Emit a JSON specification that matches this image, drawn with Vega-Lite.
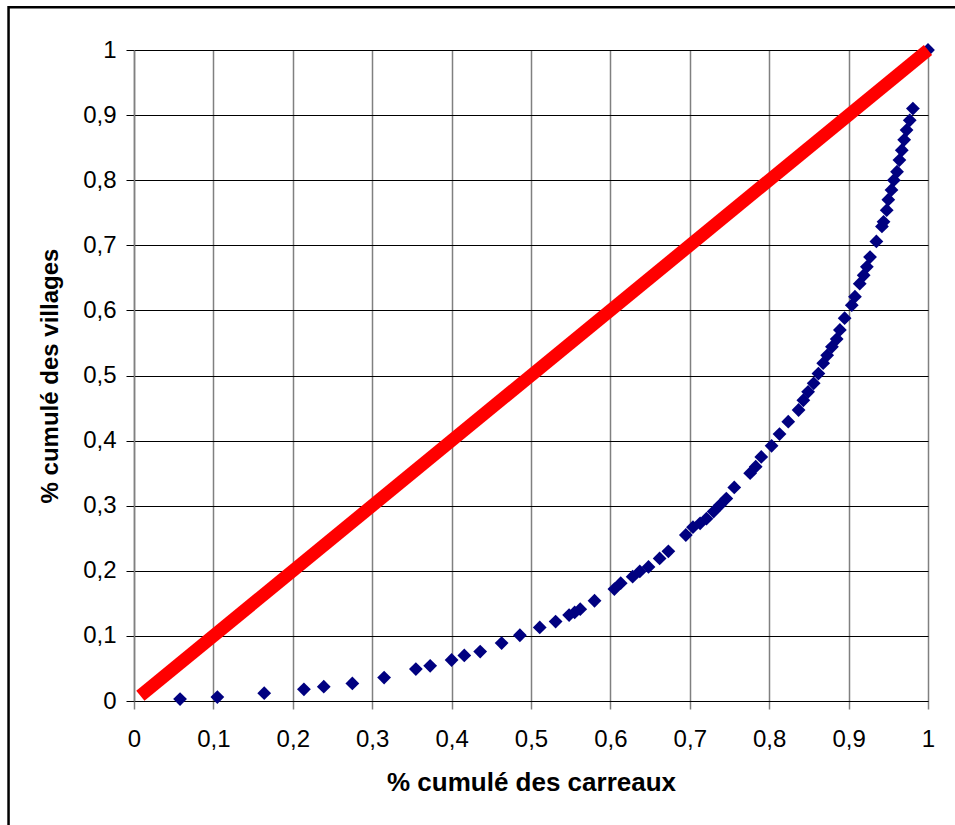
{
  "$schema": "https://vega.github.io/schema/vega-lite/v6.json",
  "autosize": "none",
  "width": 794,
  "height": 651,
  "padding": {"left": 134, "top": 50, "right": 27, "bottom": 124},
  "background": "white",
  "config": {
    "view": {"stroke": null},
    "font": "Liberation Sans",
    "axis": {"labelFont": "Liberation Sans", "titleFont": "Liberation Sans", "labelColor": "black", "titleColor": "black"}
  },
  "datasets": {
    "villages": [
      {"carreaux": 0.058, "villages": 0.003},
      {"carreaux": 0.105, "villages": 0.006},
      {"carreaux": 0.164, "villages": 0.012},
      {"carreaux": 0.214, "villages": 0.018},
      {"carreaux": 0.239, "villages": 0.022},
      {"carreaux": 0.275, "villages": 0.027},
      {"carreaux": 0.315, "villages": 0.036},
      {"carreaux": 0.355, "villages": 0.049},
      {"carreaux": 0.373, "villages": 0.054},
      {"carreaux": 0.400, "villages": 0.063},
      {"carreaux": 0.416, "villages": 0.070},
      {"carreaux": 0.436, "villages": 0.076},
      {"carreaux": 0.463, "villages": 0.089},
      {"carreaux": 0.486, "villages": 0.101},
      {"carreaux": 0.511, "villages": 0.113},
      {"carreaux": 0.531, "villages": 0.122},
      {"carreaux": 0.548, "villages": 0.132},
      {"carreaux": 0.555, "villages": 0.136},
      {"carreaux": 0.562, "villages": 0.141},
      {"carreaux": 0.580, "villages": 0.154},
      {"carreaux": 0.605, "villages": 0.172},
      {"carreaux": 0.613, "villages": 0.181},
      {"carreaux": 0.628, "villages": 0.191},
      {"carreaux": 0.637, "villages": 0.199},
      {"carreaux": 0.648, "villages": 0.206},
      {"carreaux": 0.662, "villages": 0.219},
      {"carreaux": 0.673, "villages": 0.230},
      {"carreaux": 0.695, "villages": 0.255},
      {"carreaux": 0.704, "villages": 0.267},
      {"carreaux": 0.713, "villages": 0.273},
      {"carreaux": 0.721, "villages": 0.280},
      {"carreaux": 0.730, "villages": 0.291},
      {"carreaux": 0.738, "villages": 0.301},
      {"carreaux": 0.746, "villages": 0.311},
      {"carreaux": 0.756, "villages": 0.328},
      {"carreaux": 0.776, "villages": 0.350},
      {"carreaux": 0.783, "villages": 0.360},
      {"carreaux": 0.790, "villages": 0.375},
      {"carreaux": 0.803, "villages": 0.392},
      {"carreaux": 0.813, "villages": 0.410},
      {"carreaux": 0.824, "villages": 0.429},
      {"carreaux": 0.837, "villages": 0.447},
      {"carreaux": 0.843, "villages": 0.462},
      {"carreaux": 0.849, "villages": 0.475},
      {"carreaux": 0.856, "villages": 0.488},
      {"carreaux": 0.862, "villages": 0.503},
      {"carreaux": 0.868, "villages": 0.519},
      {"carreaux": 0.873, "villages": 0.531},
      {"carreaux": 0.879, "villages": 0.544},
      {"carreaux": 0.885, "villages": 0.556},
      {"carreaux": 0.889, "villages": 0.570},
      {"carreaux": 0.895, "villages": 0.588},
      {"carreaux": 0.904, "villages": 0.608},
      {"carreaux": 0.908, "villages": 0.621},
      {"carreaux": 0.914, "villages": 0.641},
      {"carreaux": 0.919, "villages": 0.654},
      {"carreaux": 0.923, "villages": 0.667},
      {"carreaux": 0.927, "villages": 0.682},
      {"carreaux": 0.935, "villages": 0.706},
      {"carreaux": 0.942, "villages": 0.729},
      {"carreaux": 0.944, "villages": 0.736},
      {"carreaux": 0.948, "villages": 0.754},
      {"carreaux": 0.950, "villages": 0.770},
      {"carreaux": 0.954, "villages": 0.785},
      {"carreaux": 0.957, "villages": 0.800},
      {"carreaux": 0.961, "villages": 0.813},
      {"carreaux": 0.964, "villages": 0.831},
      {"carreaux": 0.967, "villages": 0.846},
      {"carreaux": 0.970, "villages": 0.862},
      {"carreaux": 0.973, "villages": 0.877},
      {"carreaux": 0.977, "villages": 0.892},
      {"carreaux": 0.981, "villages": 0.910},
      {"carreaux": 1.0, "villages": 1.0}
    ],
    "egalite": [
      {"carreaux": 0.008, "villages": 0.008},
      {"carreaux": 1.0, "villages": 1.0}
    ],
    "cadre": [
      {"gauche": -0.158, "droite": 1.06, "haut": 1.0655, "bas": -0.25}
    ]
  },
  "layer": [
    {
      "data": {"name": "villages"},
      "mark": {"type": "point", "shape": "diamond", "filled": true, "color": "#000080", "opacity": 1, "size": 190},
      "encoding": {
        "x": {
          "field": "carreaux", "type": "quantitative",
          "scale": {"domain": [0, 1], "nice": false, "zero": false},
          "axis": {
            "title": "% cumulé des carreaux",
            "values": [0, 0.1, 0.2, 0.3, 0.4, 0.5, 0.6, 0.7, 0.8, 0.9, 1],
            "format": ".1~f",
            "labelExpr": "replace(datum.label, '.', ',')",
            "labelFontSize": 24,
            "labelPadding": 18,
            "labelFlush": false,
            "labelOverlap": false,
            "tickSize": 8,
            "tickColor": "#808080",
            "tickWidth": 1.5,
            "domainColor": "black",
            "domainWidth": 1,
            "grid": true,
            "gridColor": "#808080",
            "gridWidth": 1.5,
            "gridOpacity": 1,
            "titleFontSize": 26,
            "titleFontWeight": "bold",
            "titlePadding": 18
          }
        },
        "y": {
          "field": "villages", "type": "quantitative",
          "scale": {"domain": [0, 1], "nice": false, "zero": false},
          "axis": {
            "title": "% cumulé des villages",
            "values": [0, 0.1, 0.2, 0.3, 0.4, 0.5, 0.6, 0.7, 0.8, 0.9, 1],
            "format": ".1~f",
            "labelExpr": "replace(datum.label, '.', ',')",
            "labelFontSize": 24,
            "labelPadding": 10,
            "labelFlush": false,
            "labelOverlap": false,
            "tickSize": 8,
            "tickColor": "black",
            "tickWidth": 1,
            "domainColor": "#808080",
            "domainWidth": 1.5,
            "grid": true,
            "gridColor": "black",
            "gridWidth": 1,
            "gridOpacity": 1,
            "titleFontSize": 24,
            "titleFontWeight": "bold",
            "titlePadding": 20
          }
        }
      }
    },
    {
      "data": {"name": "egalite"},
      "mark": {"type": "line", "color": "#FF0000", "strokeWidth": 13, "strokeCap": "butt"},
      "encoding": {
        "x": {"field": "carreaux", "type": "quantitative"},
        "y": {"field": "villages", "type": "quantitative"}
      }
    },
    {
      "data": {"name": "cadre"},
      "mark": {"type": "rect", "fill": null, "filled": false, "stroke": "black", "strokeWidth": 2.5, "clip": false},
      "encoding": {
        "x": {"field": "gauche", "type": "quantitative"},
        "x2": {"field": "droite"},
        "y": {"field": "haut", "type": "quantitative"},
        "y2": {"field": "bas"}
      }
    }
  ]
}
